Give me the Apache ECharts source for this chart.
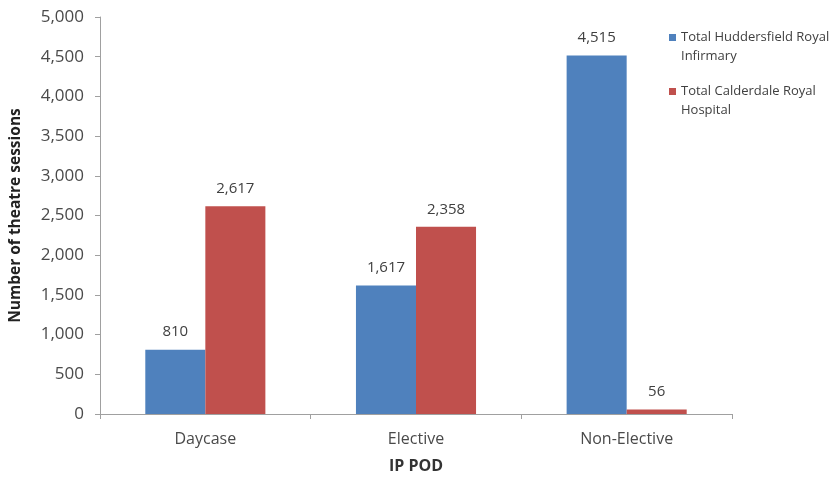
<!DOCTYPE html>
<html>
<head>
<meta charset="utf-8">
<script src="https://cdn.jsdelivr.net/npm/echarts@6/dist/echarts.min.js"></script>
<style>html,body{margin:0;padding:0;background:#fff}#c{width:829px;height:479px}</style>
</head>
<body>
<div id="c"></div>
<script>
// Theatre sessions by inpatient point of delivery, per hospital site
const categories = ['Daycase', 'Elective', 'Non-Elective'];
const huddersfield = [810, 1617, 4515];
const calderdale = [2617, 2358, 56];
const seriesNames = ['Total Huddersfield Royal\nInfirmary', 'Total Calderdale Royal\nHospital'];

const font = '"Open Sans", Lato, sans-serif';
const fmt = v => Number(v).toLocaleString('en-US');
const chart = echarts.init(document.getElementById('c'));
const labelStyle = {
  show: true, position: 'top', distance: 10,
  formatter: p => fmt(p.value),
  color: '#404040', fontFamily: font, fontSize: 15
};
// Legend swatch sits beside the first line of a two-line entry
const swatch = 'path://M0,0h0.01v0.01h-0.01zM0,6h7v7h-7zM6.99,37.99h0.01v0.01h-0.01z';
chart.setOption({
  animation: false,
  textStyle: { fontFamily: font },
  grid: { left: 95, right: 97, top: 17, bottom: 61.5 },
  legend: {
    orient: 'vertical', left: 664, top: 23,
    itemWidth: 7, itemHeight: 38, itemGap: 16,
    icon: swatch,
    textStyle: { fontFamily: font, fontSize: 13, color: '#404040', lineHeight: 19 },
    data: seriesNames
  },
  xAxis: {
    type: 'category', data: categories,
    name: 'IP POD', nameLocation: 'middle', nameGap: 44,
    nameTextStyle: { fontFamily: font, fontWeight: 'bold', fontSize: 16, color: '#333' },
    axisLine: { lineStyle: { color: '#a0a0a0' } },
    axisTick: { show: true, length: 5, lineStyle: { color: '#a0a0a0' } },
    axisLabel: { color: '#4a4a4a', fontSize: 16, margin: 17, fontFamily: font }
  },
  yAxis: {
    type: 'value', min: 0, max: 5000, interval: 500,
    name: 'Number of theatre sessions', nameLocation: 'middle', nameGap: 76,
    nameTextStyle: { fontFamily: font, fontWeight: 'bold', fontSize: 15.5, color: '#222' },
    axisLine: { show: true, lineStyle: { color: '#a0a0a0' } },
    axisTick: { show: true, length: 5, lineStyle: { color: '#a0a0a0' } },
    splitLine: { show: false },
    axisLabel: { color: '#4a4a4a', fontSize: 17, margin: 16, fontFamily: font, formatter: fmt }
  },
  series: [
    { name: seriesNames[0], type: 'bar', data: huddersfield, barGap: '0%', barCategoryGap: '43%',
      itemStyle: { color: '#4F81BD' }, label: labelStyle },
    { name: seriesNames[1], type: 'bar', data: calderdale,
      itemStyle: { color: '#C0504D' }, label: labelStyle }
  ]
});
</script>
</body>
</html>
